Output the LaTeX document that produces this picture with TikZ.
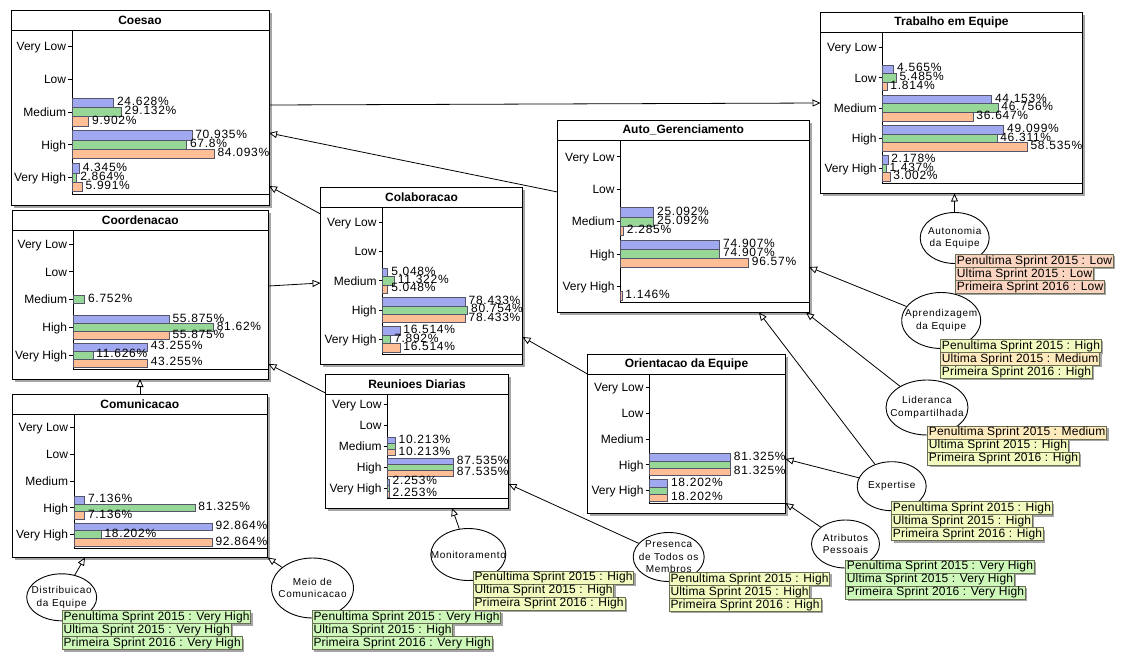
\documentclass[tikz,border=0pt]{standalone}
\usepackage{fontspec}
\setmainfont{Liberation Sans}
\newfontfamily\pctf[LetterSpace=6]{Liberation Sans}
\newfontfamily\ellf[LetterSpace=7]{Liberation Sans}
\newfontfamily\stf[LetterSpace=1.5]{Liberation Sans}
\usetikzlibrary{arrows.meta,shapes.geometric,shadows,fit}

\definecolor{barblue}{RGB}{160,168,240}
\definecolor{bargreen}{RGB}{150,214,150}
\definecolor{barorange}{RGB}{255,190,150}
\definecolor{baredge}{RGB}{85,85,105}
\definecolor{shadowgray}{RGB}{165,165,165}
\definecolor{lgreen}{RGB}{206,247,186}
\definecolor{lyellow}{RGB}{242,250,192}
\definecolor{lbeige}{RGB}{255,234,190}
\definecolor{lsalmon}{RGB}{250,212,192}
\definecolor{lborder}{RGB}{105,110,85}

\tikzset{
  chartframe/.style={draw=black, fill=white, inner sep=0pt, outer sep=0pt, line width=1pt,
    general shadow={fill=shadowgray, shadow xshift=2.5pt, shadow yshift=-2.5pt}},
  charttitle/.style={font=\bfseries\fontsize{12}{14}\selectfont, inner sep=0pt},
  catlabel/.style={anchor=east, inner sep=0pt, text height=8.6pt, text depth=0pt},
  pctlabel/.style={anchor=west, inner sep=0pt, text height=8.6pt, text depth=0pt, font=\pctf\fontsize{12}{14}\selectfont},
  barbox/.style={draw=baredge, line width=0.7pt},
  ellnode/.style={draw, fill=white, ellipse, inner sep=0pt, line width=0.9pt},
  elltext/.style={inner sep=0pt, align=center, font=\ellf\fontsize{10}{12.5}\selectfont},
  slabel/.style={draw=lborder, line width=0.8pt, anchor=north west, inner xsep=1.2pt, inner ysep=0pt,
    outer sep=0pt, minimum height=13pt, text height=9pt, text depth=2.6pt, font=\stf\fontsize{12}{14}\selectfont,
    general shadow={fill=shadowgray, shadow xshift=2pt, shadow yshift=-2pt}},
  arr/.style={-{Triangle[open,length=8pt,width=7pt]}, line width=0.8pt},
}

\newcommand\barrow[3]{%
  \ifdim #1pt>0pt
    \draw[barbox, fill=#2] (\cAX,{#3}) rectangle ++({#1*\cS},\cBH);
  \fi}
\newcommand\barlabel[4]{%
  \ifdim #1pt>0pt
    \ifnum#3=1
      \node[pctlabel] (\cN-\i-#4) at ({\cAX+#1*\cS+3},{#2+0.5*\cBH-1.5}) {#1\%};
    \fi
  \fi}
\newcommand\drawchart[9]{%
  \def\cN{#1}\def\cL{#2}\def\cT{#3}\def\cR{#4}\def\cB{#5}%
  \def\cTY{#6}\def\cAX{#7}\def\cPB{#8}\def\cS{#9}%
  \drawchartB}
\newcommand\drawchartB[3]{%
  \node[chartframe, fit={(\cL,\cT) (\cR,\cB)}] (\cN) {};
  \draw[line width=1pt] (\cL,\cTY) -- (\cR,\cTY);
  \node[charttitle] (\cN-title) at ({(\cL+\cR)/2},{(\cT+\cTY)/2}) {#1};
  \draw[line width=1pt] (\cAX,\cTY) -- (\cAX,\cPB) -- (\cR,\cPB);
  \pgfmathsetmacro\cSP{(\cPB-\cTY)/5}%
  \pgfmathsetmacro\cBH{0.285*\cSP}%
  \foreach \cLab [count=\i] in {Very Low,Low,Medium,High,Very High}{%
    \pgfmathsetmacro\cYC{\cTY+(\i-0.5)*\cSP}%
    \draw[line width=0.8pt] ({\cAX-4},\cYC) -- (\cAX,\cYC);
    \node[catlabel] (\cN-cat\i) at ({\cAX-5.5},\cYC) {\cLab};
  }
  \foreach \vb/\vg/\vo [count=\i] in {#3}{%
    \pgfmathsetmacro\cYC{\cTY+(\i-0.5)*\cSP}%
    \barrow{\vb}{barblue}{\cYC-1.5*\cBH}%
    \barrow{\vg}{bargreen}{\cYC-0.5*\cBH}%
    \barrow{\vo}{barorange}{\cYC+0.5*\cBH}%
  }
  \foreach \vb/\vg/\vo [count=\i] in {#3}{%
    \pgfmathsetmacro\cYC{\cTY+(\i-0.5)*\cSP}%
    \barlabel{\vb}{\cYC-1.5*\cBH}{1}{b}%
    \barlabel{\vg}{\cYC-0.5*\cBH}{#2}{g}%
    \barlabel{\vo}{\cYC+0.5*\cBH}{1}{o}%
  }
}
\newcommand\stl[9]{%
  \node[slabel, fill=#4] (#1-1) at (#2,#3) {#5\hspace{5pt}};
  \node[slabel, fill=#6] (#1-2) at (#1-1.south west) {#7\hspace{5pt}};
  \node[slabel, fill=#8] (#1-3) at (#1-2.south west) {#9\hspace{5pt}};
}

\begin{document}
\begin{tikzpicture}[x=1pt, y=-1pt, font=\fontsize{12}{14}\selectfont, line width=0.9pt]
\useasboundingbox[fill=white] (0,0) rectangle (1128,662);

\drawchart{coesao}{11}{10}{269}{205}{30}{72}{194}{1.69}{Coesao}{1}{0/0/0, 0/0/0, 24.628/29.132/9.902, 70.935/67.8/84.093, 4.345/2.864/5.991}
\drawchart{coord}{12}{210}{268.5}{379}{230}{73}{369}{1.72}{Coordenacao}{1}{0/0/0, 0/0/0, 0/6.752/0, 55.875/81.62/55.875, 43.255/11.626/43.255}
\drawchart{comun}{12}{394.5}{267.5}{557.5}{414}{74}{548}{1.487}{Comunicacao}{1}{0/0/0, 0/0/0, 0/0/0, 7.136/81.325/7.136, 92.864/18.202/92.864}
\drawchart{colab}{320.5}{187.5}{522.5}{364}{207.5}{382.5}{354}{1.055}{Colaboracao}{1}{0/0/0, 0/0/0, 5.048/11.322/5.048, 78.433/80.754/78.433, 16.514/7.892/16.514}
\drawchart{reun}{325.5}{374.5}{508.5}{508}{394}{387.5}{498.5}{0.754}{Reunioes Diarias}{0}{0/0/0, 0/0/0, 10.213/10.213/10.213, 87.535/87.535/87.535, 2.253/2.253/2.253}
\drawchart{auto}{557.5}{120}{809}{312.5}{140.5}{620.5}{302.5}{1.325}{Auto\_Gerenciamento}{1}{0/0/0, 0/0/0, 25.092/25.092/2.285, 74.907/74.907/96.57, 0/0/1.146}
\drawchart{orient}{587.5}{354.5}{785.5}{513.5}{374.5}{649.5}{503.5}{0.996}{Orientacao da Equipe}{0}{0/0/0, 0/0/0, 0/0/0, 81.325/81.325/81.325, 18.202/18.202/18.202}
\drawchart{trab}{820.5}{12.5}{1082.5}{193.5}{32.5}{882.5}{183.5}{2.47}{Trabalho em Equipe}{1}{0/0/0, 4.565/5.485/1.814, 44.153/46.756/36.647, 49.099/46.311/58.535, 2.178/1.437/3.002}

% ellipses
\node[ellnode, minimum width=70pt, minimum height=47pt] (distr) at (61.7,597.3) {};
\node[elltext] (distr-t) at (distr) {Distribuicao\\da Equipe};
\node[ellnode, minimum width=82pt, minimum height=60pt] (meio) at (312.5,588) {};
\node[elltext] (meio-t) at (meio) {Meio de\\Comunicacao};
\node[ellnode, minimum width=75pt, minimum height=52pt] (monit) at (468.3,554.5) {};
\node[elltext] (monit-t) at (monit) {Monitoramento};
\node[ellnode, minimum width=71pt, minimum height=49pt] (pres) at (668.7,557) {};
\node[elltext] (pres-t) at (pres) {Presenca\\de Todos os\\Membros};
\node[ellnode, minimum width=68pt, minimum height=48pt] (atrib) at (845.5,544) {};
\node[elltext] (atrib-t) at (atrib) {Atributos\\Pessoais};
\node[ellnode, minimum width=69pt, minimum height=49pt] (expert) at (891.7,486.2) {};
\node[elltext] (expert-t) at (expert) {Expertise};
\node[ellnode, minimum width=82pt, minimum height=55pt] (lider) at (927,407.5) {};
\node[elltext] (lider-t) at (lider) {Lideranca\\Compartilhada};
\node[ellnode, minimum width=79pt, minimum height=56pt] (aprend) at (941.2,320.5) {};
\node[elltext] (aprend-t) at (aprend) {Aprendizagem\\da Equipe};
\node[ellnode, minimum width=69pt, minimum height=51pt] (auton) at (954.7,238) {};
\node[elltext] (auton-t) at (auton) {Autonomia\\da Equipe};

% state labels
\stl{distl}{62.3}{610.7}{lgreen}{Penultima Sprint 2015 : Very High}{lgreen}{Ultima Sprint 2015 : Very High}{lgreen}{Primeira Sprint 2016 : Very High}
\stl{meiol}{312.3}{610.7}{lgreen}{Penultima Sprint 2015 : Very High}{lgreen}{Ultima Sprint 2015 : High}{lgreen}{Primeira Sprint 2016 : Very High}
\stl{monitl}{473.3}{571}{lyellow}{Penultima Sprint 2015 : High}{lyellow}{Ultima Sprint 2015 : High}{lyellow}{Primeira Sprint 2016 : High}
\stl{presl}{669.3}{572.3}{lyellow}{Penultima Sprint 2015 : High}{lyellow}{Ultima Sprint 2015 : High}{lyellow}{Primeira Sprint 2016 : High}
\stl{atribl}{845.7}{560}{lgreen}{Penultima Sprint 2015 : Very High}{lgreen}{Ultima Sprint 2015 : Very High}{lgreen}{Primeira Sprint 2016 : Very High}
\stl{expertl}{891.7}{501.7}{lyellow}{Penultima Sprint 2015 : High}{lyellow}{Ultima Sprint 2015 : High}{lyellow}{Primeira Sprint 2016 : High}
\stl{liderl}{927.7}{426}{lbeige}{Penultima Sprint 2015 : Medium}{lyellow}{Ultima Sprint 2015 : High}{lyellow}{Primeira Sprint 2016 : High}
\stl{aprendl}{940.7}{339.3}{lyellow}{Penultima Sprint 2015 : High}{lbeige}{Ultima Sprint 2015 : Medium}{lyellow}{Primeira Sprint 2016 : High}
\stl{autonl}{955.7}{254.3}{lsalmon}{Penultima Sprint 2015 : Low}{lsalmon}{Ultima Sprint 2015 : Low}{lsalmon}{Primeira Sprint 2016 : Low}

% connectors
\draw[arr] (coesao.east |- 0,105) -- (trab.west |- 0,103);
\draw[arr] (auto.west |- 0,192) -- (coesao.east |- 0,133);
\draw[arr] (colab.west |- 0,214) -- (coesao.east |- 0,186);
\draw[arr] (coord.east |- 0,286) -- (colab.west |- 0,283);
\draw[arr] (comun.north -| 140,0) -- (coord.south -| 140,0);
\draw[arr] (reun.west |- 0,393) -- (coord.east |- 0,364);
\draw[arr] (orient.west |- 0,374) -- (colab.east |- 0,337);
\draw[arr] (distr) -- (comun.south -| 85,0);
\draw[arr] (meio) -- (comun.south east);
\draw[arr] (monit) -- (reun.south -| 452,0);
\draw[arr] (pres) -- (reun.east |- 0,484);
\draw[arr] (atrib) -- (orient.east |- 0,503);
\draw[arr] (expert) -- (orient.east |- 0,459);
\draw[arr] (expert) -- (auto.south -| 759,0);
\draw[arr] (lider) -- (auto.south -| 806,0);
\draw[arr] (aprend) -- (auto.east |- 0,267);
\draw[arr] (auton) -- (trab.south -| 954.5,0);
\end{tikzpicture}
\end{document}
